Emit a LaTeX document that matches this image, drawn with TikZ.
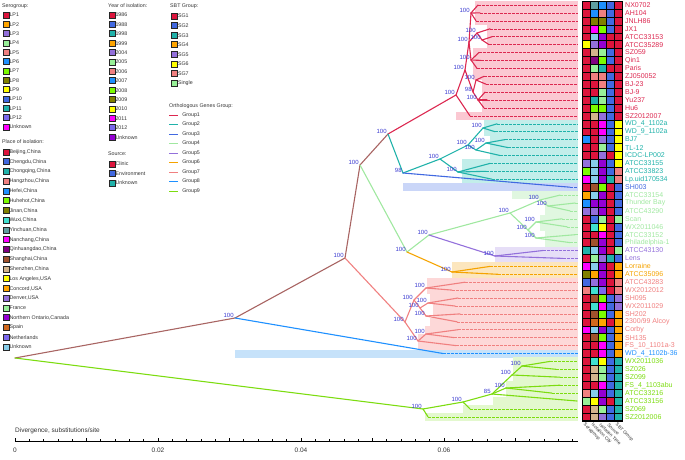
\documentclass[tikz,border=0pt]{standalone}
\usepackage{fontspec}
\setmainfont{Liberation Sans}

% cell colours
\definecolor{kCr}{HTML}{DC143C}
\definecolor{kRo}{HTML}{4169E1}
\definecolor{kDo}{HTML}{1E90FF}
\definecolor{kLs}{HTML}{20B2AA}
\definecolor{kOr}{HTML}{FFA500}
\definecolor{kMp}{HTML}{9370DB}
\definecolor{kLg}{HTML}{98F098}
\definecolor{kSa}{HTML}{F08080}
\definecolor{kLa}{HTML}{7CFC00}
\definecolor{kOl}{HTML}{808000}
\definecolor{kYe}{HTML}{FFFF00}
\definecolor{kMs}{HTML}{7B68EE}
\definecolor{kMa}{HTML}{FF00FF}
\definecolor{kDv}{HTML}{9400D3}
\definecolor{kSk}{HTML}{87CEEB}
\definecolor{kCa}{HTML}{5F9EA0}
\definecolor{kTu}{HTML}{40E0D0}
\definecolor{kPu}{HTML}{800080}
\definecolor{kSi}{HTML}{A0522D}
\definecolor{kTa}{HTML}{D2B48C}
\definecolor{kCh}{HTML}{D2691E}
% branch colours
\definecolor{brn}{HTML}{A86462}
\definecolor{og1}{HTML}{DC2850}
\definecolor{og2}{HTML}{20B2AA}
\definecolor{og3}{HTML}{4169E1}
\definecolor{og4}{HTML}{A0E8A0}
\definecolor{og5}{HTML}{9370DB}
\definecolor{og6}{HTML}{F5A300}
\definecolor{og7}{HTML}{F08080}
\definecolor{og8}{HTML}{1E90FF}
\definecolor{og9}{HTML}{7CDC10}
% clade shading
\definecolor{sh1}{HTML}{FBC8D2}
\definecolor{sh2}{HTML}{C2EEEA}
\definecolor{sh3}{HTML}{CAD6F8}
\definecolor{sh4}{HTML}{E0F7E0}
\definecolor{sh5}{HTML}{E6DEF7}
\definecolor{sh6}{HTML}{FCE6BE}
\definecolor{sh7}{HTML}{FDD8D8}
\definecolor{sh8}{HTML}{C6E2FA}
\definecolor{sh9}{HTML}{E3F8CE}
\definecolor{bootblue}{HTML}{3A3AD0}

\tikzset{
  br/.style={line width=1.1pt, line cap=round},
  lf/.style={line width=0.5pt, dash pattern=on 2.5pt off 1.5pt},
  boot/.style={text=bootblue, font=\fontsize{6}{6}\selectfont, inner sep=0.2pt, anchor=south east, xshift=-1pt},
  leaf/.style={anchor=west, font=\fontsize{7}{7}\selectfont, inner sep=0pt},
  key/.style={draw=black!85, line width=0.7pt, minimum size=6pt, inner sep=0pt, label distance=3.2pt},
  keytxt/.style={font=\fontsize{5.3}{5.3}\selectfont, inner sep=0pt, text=black!80},
  hd/.style={anchor=west, font=\fontsize{5.3}{5.3}\selectfont, inner sep=0pt, text=black!80},
  colhd/.style={anchor=west, rotate=-45, font=\fontsize{4.6}{4.6}\selectfont, inner sep=0pt, text=black!80},
}

\begin{document}
\begin{tikzpicture}[x=1pt,y=-1pt]
  \useasboundingbox (0,0) rectangle (685,460);

  % clade shading
  \foreach \x/\y in {475/5.0,475/12.9,475/20.8,487/28.8,487/36.7,487/44.6,473/52.5,473/60.4,473/68.4,473/76.3,482/84.2,482/92.1,482/100.0,482/108.0,456/115.9}
    \fill[sh1] (\x,\y-4) rectangle (578,\y+4);
  \foreach \x/\y in {484/123.8,484/131.7,490/139.6,490/147.6,490/155.5,462/163.4,462/171.3,462/179.2}
    \fill[sh2] (\x,\y-4) rectangle (578,\y+4);
  \fill[sh3] (403,183.2) rectangle (578,191.2);
  \foreach \x/\y in {512/195.1,545/203.0,545/210.9,540/218.8,540/226.8,545/234.7,545/242.6}
    \fill[sh4] (\x,\y-4) rectangle (578,\y+4);
  \foreach \x/\y in {495/250.5,495/258.4}
    \fill[sh5] (\x,\y-4) rectangle (578,\y+4);
  \foreach \x/\y in {452/266.4,452/274.3}
    \fill[sh6] (\x,\y-4) rectangle (578,\y+4);
  \foreach \x/\y in {427/282.2,427/290.1,430/298.0,433/306.0,433/313.9,430/321.8,425/329.7,418/337.6,418/345.6}
    \fill[sh7] (\x,\y-4) rectangle (578,\y+4);
  \fill[sh8] (235,349.5) rectangle (578,357.5);
  \foreach \x/\y in {513/361.4,513/369.3,513/377.2,506/385.2,506/393.1,493/401.0,463/408.9,425/416.8}
    \fill[sh9] (\x,\y-4) rectangle (578,\y+4);

  % inner nodes
  \coordinate (root) at (15,358);
  \coordinate (n1) at (235,318);
  \coordinate (n2) at (345,258);
  \coordinate (n3) at (360,165);
  \coordinate (n4) at (388,134);
  \coordinate (hm) at (578,0);
  \coordinate (c0) at (456,95);
  \coordinate (c1) at (465,70);
  \coordinate (c2) at (469,42);
  \coordinate (c3) at (473,92);
  \coordinate (c2a) at (471,13);
  \coordinate (c2b) at (477,33);
  \coordinate (c2d) at (482,40);
  \coordinate (c2c) at (471,60);
  \coordinate (c3a) at (476,80);
  \coordinate (c3b) at (478,100);
  \coordinate (tt0) at (403,173);
  \coordinate (tt1) at (440,159);
  \coordinate (tt2) at (468,145);
  \coordinate (tt3) at (458,172);
  \coordinate (tt2a) at (483,128);
  \coordinate (tt2b) at (476,150);
  \coordinate (tt2c) at (486,143);
  \coordinate (g0) at (407,252);
  \coordinate (g1) at (429,235);
  \coordinate (g2) at (510,213);
  \coordinate (ga) at (540,200);
  \coordinate (gc) at (548,206);
  \coordinate (gb) at (528,230);
  \coordinate (gd) at (536,222);
  \coordinate (ge) at (536,238);
  \coordinate (p1) at (495,256);
  \coordinate (o1) at (452,272);
  \coordinate (s1) at (405,322);
  \coordinate (s2) at (414,300);
  \coordinate (s3) at (426,288);
  \coordinate (s4) at (420,308);
  \coordinate (s4a) at (428,303);
  \coordinate (s4b) at (426,316);
  \coordinate (s5) at (418,341);
  \coordinate (s5a) at (426,334);
  \coordinate (v0) at (423,409);
  \coordinate (v1) at (463,402);
  \coordinate (v2) at (492,394);
  \coordinate (v3) at (512,375);
  \coordinate (v3a) at (522,366);
  \coordinate (v4) at (506,388);

  % tips
  \coordinate (t1) at (478,5.0);
  \coordinate (t2) at (480,12.9);
  \coordinate (t3) at (476,20.8);
  \coordinate (t4) at (490,28.8);
  \coordinate (t5) at (492,36.7);
  \coordinate (t6) at (489,44.6);
  \coordinate (t7) at (479,52.5);
  \coordinate (t8) at (481,60.4);
  \coordinate (t9) at (477,68.4);
  \coordinate (t10) at (484,76.3);
  \coordinate (t11) at (486,84.2);
  \coordinate (t12) at (485,92.1);
  \coordinate (t13) at (487,100.0);
  \coordinate (t14) at (484,108.0);
  \coordinate (t15) at (470,115.9);
  \coordinate (t16) at (497,123.8);
  \coordinate (t17) at (495,131.7);
  \coordinate (t18) at (505,139.6);
  \coordinate (t19) at (508,147.6);
  \coordinate (t20) at (500,155.5);
  \coordinate (t21) at (490,163.4);
  \coordinate (t22) at (486,171.3);
  \coordinate (t23) at (492,179.2);
  \coordinate (t24) at (570,187.2);
  \coordinate (t25) at (560,195.1);
  \coordinate (t26) at (575,203.0);
  \coordinate (t27) at (570,210.9);
  \coordinate (t28) at (562,218.8);
  \coordinate (t29) at (567,226.8);
  \coordinate (t30) at (575,234.7);
  \coordinate (t31) at (570,242.6);
  \coordinate (t32) at (543,250.5);
  \coordinate (t33) at (563,258.4);
  \coordinate (t34) at (490,266.4);
  \coordinate (t35) at (498,274.3);
  \coordinate (t36) at (465,282.2);
  \coordinate (t37) at (452,290.1);
  \coordinate (t38) at (458,298.0);
  \coordinate (t39) at (455,306.0);
  \coordinate (t40) at (460,313.9);
  \coordinate (t41) at (457,321.8);
  \coordinate (t42) at (458,329.7);
  \coordinate (t43) at (454,337.6);
  \coordinate (t44) at (456,345.6);
  \coordinate (t45) at (443,353.5);
  \coordinate (t46) at (550,361.4);
  \coordinate (t47) at (556,369.3);
  \coordinate (t48) at (560,377.2);
  \coordinate (t49) at (560,385.2);
  \coordinate (t50) at (552,393.1);
  \coordinate (t51) at (577,401.0);
  \coordinate (t52) at (470,408.9);
  \coordinate (t53) at (428,416.8);

  % dashed leaf ends
  \foreach \t in {t1,t2,t3,t4,t5,t6,t7,t8,t9,t10,t11,t12,t13,t14,t15}
    \draw[lf, og1] (\t) -- (\t -| hm);
  \foreach \t in {t16,t17,t18,t19,t20,t21,t22,t23}
    \draw[lf, og2] (\t) -- (\t -| hm);
  \draw[lf, og3] (t24) -- (t24 -| hm);
  \foreach \t in {t25,t26,t27,t28,t29,t30,t31}
    \draw[lf, og4] (\t) -- (\t -| hm);
  \foreach \t in {t32,t33}
    \draw[lf, og5] (\t) -- (\t -| hm);
  \foreach \t in {t34,t35}
    \draw[lf, og6] (\t) -- (\t -| hm);
  \foreach \t in {t36,t37,t38,t39,t40,t41,t42,t43,t44}
    \draw[lf, og7] (\t) -- (\t -| hm);
  \draw[lf, og8] (t45) -- (t45 -| hm);
  \foreach \t in {t46,t47,t48,t49,t50,t52,t53}
    \draw[lf, og9] (\t) -- (\t -| hm);

  % branches
  \foreach \a/\b in {root/n1,n1/n2,n2/n3,n3/n4}
    \draw[br, brn] (\a) -- (\b);
  \foreach \a/\b in {n4/c0,c0/c1,c0/t15,c1/c2,c1/c3,c2/c2a,c2/c2b,c2/c2c,c2a/t1,c2a/t2,c2a/t3,c2b/t4,c2b/c2d,c2d/t5,c2d/t6,c2c/t7,c2c/t8,c2c/t9,c3/c3a,c3/c3b,c3a/t10,c3a/t11,c3b/t12,c3b/t13,c3b/t14}
    \draw[br, og1] (\a) -- (\b);
  \foreach \a/\b in {n4/tt0,tt0/tt1,tt1/tt2,tt1/tt3,tt2/tt2a,tt2/tt2b,tt2a/t16,tt2a/t17,tt2b/tt2c,tt2c/t18,tt2c/t19,tt2b/t20,tt3/t21,tt3/t22,tt3/t23}
    \draw[br, og2] (\a) -- (\b);
  \draw[br, og3] (tt0) -- (t24);
  \foreach \a/\b in {n3/g0,g0/g1,g1/g2,g2/ga,g2/gb,ga/t25,ga/gc,gc/t26,gc/t27,gb/gd,gb/ge,gd/t28,gd/t29,ge/t30,ge/t31}
    \draw[br, og4] (\a) -- (\b);
  \foreach \a/\b in {g1/p1,p1/t32,p1/t33}
    \draw[br, og5] (\a) -- (\b);
  \foreach \a/\b in {g0/o1,o1/t34,o1/t35}
    \draw[br, og6] (\a) -- (\b);
  \foreach \a/\b in {n2/s1,s1/s2,s1/s5,s2/s3,s2/s4,s3/t36,s3/t37,s4/s4a,s4/s4b,s4a/t38,s4a/t39,s4b/t40,s4b/t41,s5/s5a,s5a/t42,s5a/t43,s5/t44}
    \draw[br, og7] (\a) -- (\b);
  \draw[br, og8] (n1) -- (t45);
  \foreach \a/\b in {root/v0,v0/t53,v0/v1,v1/t52,v1/v2,v2/v3,v2/v4,v2/t51,v3/v3a,v3a/t46,v3a/t47,v3/t48,v4/t49,v4/t50}
    \draw[br, og9] (\a) -- (\b);

  % bootstrap values
  \foreach \n/\v in {n1/100,n2/100,n3/100,n4/100,c0/100,c1/100,c2/100,c2a/100,c2b/100,c2d/100,c2c/100,c3/98,c3a/100,c3b/100,
      tt0/98,tt1/100,tt2/100,tt3/100,tt2a/100,tt2b/100,tt2c/100,g0/100,g1/100,g2/100,ga/100,gc/100,gb/100,gd/100,ge/100,
      p1/100,o1/100,s1/100,s2/100,s3/100,s4/100,s4a/100,s4b/100,s5/100,s5a/100,v0/100,v1/100,v2/85,v3/100,v3a/100,v4/100}
    \node[boot] (b\n) at (\n) {\v};

  % heat map
  \foreach \y/\a/\b/\c/\d/\e in {5.0/Cr/Ca/Do/Ro/Cr,12.9/Cr/Do/Sa/Ro/Cr,20.8/Cr/Ol/Ol/Ro/Cr,28.8/Cr/Ma/La/Ro/Cr,
      36.7/Cr/Sk/Dv/Cr/Cr,44.6/Ye/Mp/Dv/Cr/Cr,52.5/Cr/Ta/Lg/Ro/Cr,60.4/Cr/Pu/La/Ro/Cr,68.4/Cr/Lg/Ls/Cr/Cr,
      76.3/Cr/Sa/Sa/Ro/Cr,84.2/Cr/Cr/Sa/Ro/Cr,92.1/Cr/Cr/Lg/Ro/Cr,100.0/Cr/Ls/Lg/Ro/Cr,108.0/Cr/La/La/Ro/Cr,
      115.9/Cr/Ta/Mp/Ro/Cr,123.8/Cr/Cr/Ma/Ro/Ye,131.7/Cr/Cr/Ma/Ro/Ye,139.6/Do/Cr/Mp/Ro/Ye,147.6/Cr/Cr/Lg/Ro/Ye,
      155.5/Cr/Cr/Mp/Cr/Ye,163.4/Mp/Sk/Dv/Ro/Ye,171.3/La/Sk/Dv/Ro/Sa,179.2/Ma/Sk/Dv/Ls/Sa,187.2/Cr/Si/La/Cr/Ro,
      195.1/Or/Sk/Dv/Cr/Ro,203.0/Do/Dv/Dv/Cr/Ro,210.9/Mp/Mp/Dv/Cr/Ro,218.8/Cr/Ro/Lg/Cr/Lg,226.8/Cr/Tu/Ye/Cr/Ro,
      234.7/Cr/Cr/Ma/Cr/Ro,242.6/Cr/Si/Dv/Cr/Ro,250.5/Ls/Sk/Dv/Cr/Lg,258.4/Cr/Lg/Mp/Ls/Ro,266.4/Ma/Sk/Dv/Cr/Or,
      274.3/Ol/Or/Dv/Cr/Or,282.2/Ro/Mp/Dv/Cr/Sa,290.1/Sa/Tu/Ms/Cr/Sa,298.0/Cr/Si/La/Ro/Mp,306.0/Cr/Tu/Ma/Ro/Mp,
      313.9/Cr/Si/La/Ro/Or,321.8/Cr/Ch/Or/Cr/Or,329.7/Ma/Sk/Dv/Ro/Or,337.6/Cr/Si/La/Ro/Or,345.6/Cr/Cr/Ma/Ro/Or,
      353.5/Cr/Cr/Ma/Ro/Or,361.4/Cr/Tu/Ye/Ro/Ls,369.3/Cr/Ta/Lg/Ro/Ls,377.2/Cr/Ta/Lg/Ro/Ls,385.2/Cr/Cr/Ma/Ro/Ls,
      393.1/Sa/Sk/Dv/Ro/Ls,401.0/Lg/Ye/Dv/Cr/Ls,408.9/Cr/Ta/Lg/Ro/Ls,416.8/Cr/Ta/Mp/Ro/Ls}{
    \foreach \col [count=\k from 0] in {\a,\b,\c,\d,\e}
      \filldraw[fill=k\col, draw=black, line width=0.4pt] (582+8*\k,\y-3.96) rectangle +(8,7.92);
  }
  \draw[line width=0.8pt] (582,1.04) rectangle (622,420.76);

  % leaf names
  \node[leaf, text=og1] (l1) at (625,5.0) {NX0702};
  \node[leaf, text=og1] (l2) at (625,12.9) {AH104};
  \node[leaf, text=og1] (l3) at (625,20.8) {JNLH86};
  \node[leaf, text=og1] (l4) at (625,28.8) {JX1};
  \node[leaf, text=og1] (l5) at (625,36.7) {ATCC33153};
  \node[leaf, text=og1] (l6) at (625,44.6) {ATCC35289};
  \node[leaf, text=og1] (l7) at (625,52.5) {SZ059};
  \node[leaf, text=og1] (l8) at (625,60.4) {Qin1};
  \node[leaf, text=og1] (l9) at (625,68.4) {Paris};
  \node[leaf, text=og1] (l10) at (625,76.3) {ZJ050052};
  \node[leaf, text=og1] (l11) at (625,84.2) {BJ-23};
  \node[leaf, text=og1] (l12) at (625,92.1) {BJ-9};
  \node[leaf, text=og1] (l13) at (625,100.0) {Yu237};
  \node[leaf, text=og1] (l14) at (625,108.0) {Hu6};
  \node[leaf, text=og1] (l15) at (625,115.9) {SZ2012007};
  \node[leaf, text=og2] (l16) at (625,123.8) {WD\_4\_1102a};
  \node[leaf, text=og2] (l17) at (625,131.7) {WD\_9\_1102a};
  \node[leaf, text=og2] (l18) at (625,139.6) {BJ7};
  \node[leaf, text=og2] (l19) at (625,147.6) {TL-12};
  \node[leaf, text=og2] (l20) at (625,155.5) {ICDC-LP002};
  \node[leaf, text=og2] (l21) at (625,163.4) {ATCC33155};
  \node[leaf, text=og2] (l22) at (625,171.3) {ATCC33823};
  \node[leaf, text=og2] (l23) at (625,179.2) {Lp.uid170534};
  \node[leaf, text=og3] (l24) at (625,187.2) {SH003};
  \node[leaf, text=og4] (l25) at (625,195.1) {ATCC33154};
  \node[leaf, text=og4] (l26) at (625,203.0) {Thunder Bay};
  \node[leaf, text=og4] (l27) at (625,210.9) {ATCC43290};
  \node[leaf, text=og4] (l28) at (625,218.8) {Scan};
  \node[leaf, text=og4] (l29) at (625,226.8) {WX2011046};
  \node[leaf, text=og4] (l30) at (625,234.7) {ATCC33152};
  \node[leaf, text=og4] (l31) at (625,242.6) {Philadelphia-1};
  \node[leaf, text=og5] (l32) at (625,250.5) {ATCC43130};
  \node[leaf, text=og5] (l33) at (625,258.4) {Lens};
  \node[leaf, text=og6] (l34) at (625,266.4) {Lorraine};
  \node[leaf, text=og6] (l35) at (625,274.3) {ATCC35096};
  \node[leaf, text=og7] (l36) at (625,282.2) {ATCC43283};
  \node[leaf, text=og7] (l37) at (625,290.1) {WX2012012};
  \node[leaf, text=og7] (l38) at (625,298.0) {SH095};
  \node[leaf, text=og7] (l39) at (625,306.0) {WX2011029};
  \node[leaf, text=og7] (l40) at (625,313.9) {SH202};
  \node[leaf, text=og7] (l41) at (625,321.8) {2300/99 Alcoy};
  \node[leaf, text=og7] (l42) at (625,329.7) {Corby};
  \node[leaf, text=og7] (l43) at (625,337.6) {SH135};
  \node[leaf, text=og7] (l44) at (625,345.6) {FS\_10\_1101a-3};
  \node[leaf, text=og8] (l45) at (625,353.5) {WD\_4\_1102b-36};
  \node[leaf, text=og9] (l46) at (625,361.4) {WX2011036};
  \node[leaf, text=og9] (l47) at (625,369.3) {SZ026};
  \node[leaf, text=og9] (l48) at (625,377.2) {SZ099};
  \node[leaf, text=og9] (l49) at (625,385.2) {FS\_4\_1103abu};
  \node[leaf, text=og9] (l50) at (625,393.1) {ATCC33216};
  \node[leaf, text=og9] (l51) at (625,401.0) {ATCC33156};
  \node[leaf, text=og9] (l52) at (625,408.9) {SZ069};
  \node[leaf, text=og9] (l53) at (625,416.8) {SZ2012006};

  % column heads
  \node[colhd] (h1) at (584,424) {Serogroup};
  \node[colhd] (h2) at (592,424) {Isolation City};
  \node[colhd] (h3) at (600,424) {Isolation Time};
  \node[colhd] (h4) at (608,424) {Source};
  \node[colhd] (h5) at (616,424) {SBT Group};

  % legends
  \node[hd] (sgh) at (2,6) {Serogroup:};
  \foreach \t/\c [count=\k from 0] in {LP1/Cr,LP2/Or,LP3/Mp,LP4/Lg,LP5/Sa,LP6/Do,LP7/La,LP8/Ol,LP9/Ye,LP10/Ro,LP11/Ls,LP12/Ms,Unknown/Ma}
    \node[key, fill=k\c, label={[keytxt]right:\t}] (sg\k) at (6,15+9.33*\k) {};
  \node[hd] (plh) at (2,142) {Place of isolation:};
  \foreach \t/\c [count=\k from 0] in {{Beijing,China}/Cr,{Chengdu,China}/Ro,{Chongqing,China}/Ls,{Hangzhou,China}/Sa,
      {Hefei,China}/Do,{Huhehot,China}/La,{Jinan,China}/Ol,{Wuxi,China}/Tu,{Yinchuan,China}/Ca,{Nanchang,China}/Ma,
      {Qinhuangdao,China}/Pu,{Shanghai,China}/Si,{Shenzhen,China}/Ta,{Los Angeles,USA}/Ye,{Concord,USA}/Or,
      {Denver,USA}/Mp,France/Lg,{Northern Ontario,Canada}/Dv,Spain/Ch,Netherlands/Ms,Unknown/Sk}
    \node[key, fill=k\c, label={[keytxt]right:\t}] (pl\k) at (6,152+9.75*\k) {};
  \node[hd] (yrh) at (108,6) {Year of isolation:};
  \foreach \t/\c [count=\k from 0] in {1986/Cr,1988/Ro,1998/Ls,1999/Or,2004/Mp,2005/Lg,2006/Sa,2007/Do,2008/La,2009/Ol,2010/Ye,2011/Ma,2012/Ms,Unknown/Dv}
    \node[key, fill=k\c, label={[keytxt]right:\t}] (yr\k) at (112,15+9.4*\k) {};
  \node[hd] (srh) at (108,154) {Source:};
  \foreach \t/\c [count=\k from 0] in {Clinic/Cr,Environment/Ro,Unknown/Ls}
    \node[key, fill=k\c, label={[keytxt]right:\t}] (sr\k) at (112,164+9.5*\k) {};
  \node[hd] (sbh) at (170,6) {SBT Group:};
  \foreach \t/\c [count=\k from 0] in {SG1/Cr,SG2/Ro,SG3/Ls,SG4/Or,SG5/Mp,SG6/Ye,SG7/Sa,Single/Lg}
    \node[key, fill=k\c, label={[keytxt]right:\t}] (sb\k) at (174.5,16+9.6*\k) {};
  \node[hd] (ogh) at (169,106) {Orthologous Genes Group:};
  \foreach \k in {1,...,9} {
    \coordinate (oga\k) at (169,115+9.5*\k-9.5);
    \draw[line width=0.9pt, og\k] (oga\k) -- ++(9.3,0) node[keytxt, anchor=west, xshift=3.5pt] (og\k) {Group\k};
  }

  % scale
  \node[hd, font=\fontsize{6.5}{6.5}\selectfont] (axt) at (15,431) {Divergence, substitutions/site};
  \draw[line width=0.8pt] (15,441) -- (578,441);
  \foreach \i in {0,...,39} {
    \pgfmathsetmacro\h{ifthenelse(mod(\i,5)==0,3.5,1.8)}
    \draw[line width=0.8pt] (15+14.3*\i,441) -- ++(0,-\h);
  }
  \foreach \v [count=\k from 0] in {0,0.02,0.04,0.06}
    \node[font=\fontsize{6.5}{6.5}\selectfont, inner sep=0pt, text=black!80] (ax\k) at (15+143*\k,450) {\v};
\end{tikzpicture}
\end{document}
